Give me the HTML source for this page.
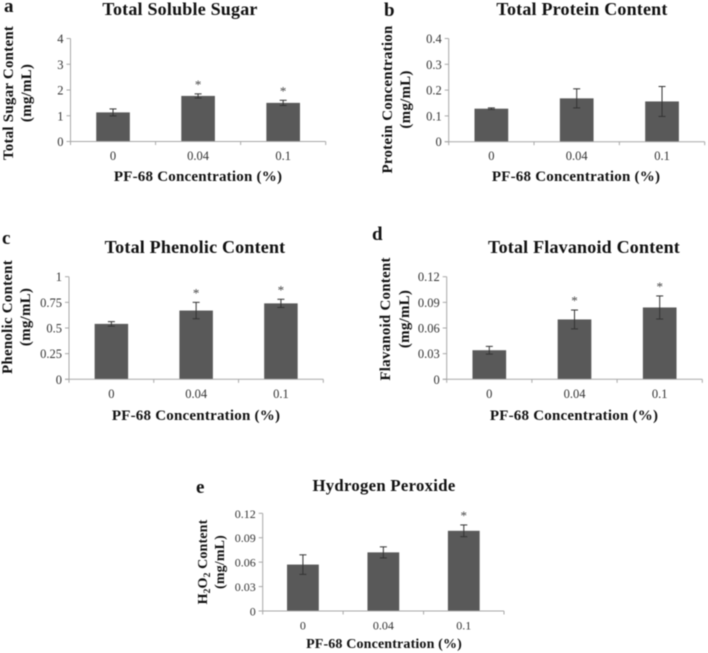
<!DOCTYPE html>
<html lang="en">
<head>
<meta charset="utf-8">
<title>PF-68 concentration effects</title>
<style>
html,body{margin:0;padding:0;background:#fff;width:708px;height:653px;overflow:hidden}
svg{display:block;filter:blur(0.45px)}
text{font-family:"Liberation Serif",serif;fill:#111}
.t{font-size:18px;font-weight:bold;text-anchor:middle;letter-spacing:.2px}
.l{font-size:19px;font-weight:bold}
.a{font-size:15px;font-weight:bold;text-anchor:middle;letter-spacing:.22px}
.tick{font-size:12.5px;fill:#333}
.star{font-size:13px;fill:#444;text-anchor:middle}
.t.e{font-size:16.7px;letter-spacing:.3px}
.a.e{font-size:14px;letter-spacing:.15px}
#panel-e .tick{font-size:12px}
</style>
</head>
<body>
<svg id="figure" width="708" height="653" viewBox="0 0 708 653" xmlns="http://www.w3.org/2000/svg">
  <rect width="708" height="653" fill="#fff"/>

  <text class="l" x="4" y="12">a</text>
  <text class="t" x="180" y="15">Total Soluble Sugar</text>
  <text class="a" transform="translate(13,93) rotate(-90)">Total Sugar Content</text>
  <text class="a" transform="translate(31,93) rotate(-90)">(mg/mL)</text>
  <text class="a" x="198" y="181">PF-68 Concentration (%)</text>
  <g id="panel-a"></g>

  <text class="l" x="384" y="16">b</text>
  <text class="t" x="582" y="15">Total Protein Content</text>
  <text class="a" transform="translate(392,99.5) rotate(-90)">Protein Concentration</text>
  <text class="a" transform="translate(410,99.5) rotate(-90)">(mg/mL)</text>
  <text class="a" x="576" y="181">PF-68 Concentration (%)</text>
  <g id="panel-b"></g>

  <text class="l" x="2" y="244">c</text>
  <text class="t" x="195" y="253">Total Phenolic Content</text>
  <text class="a" transform="translate(12,317) rotate(-90)">Phenolic Content</text>
  <text class="a" transform="translate(30,317) rotate(-90)">(mg/mL)</text>
  <text class="a" x="196" y="420">PF-68 Concentration (%)</text>
  <g id="panel-c"></g>

  <text class="l" x="372" y="240">d</text>
  <text class="t" x="584" y="253">Total Flavanoid Content</text>
  <text class="a" transform="translate(390,319) rotate(-90)">Flavanoid Content</text>
  <text class="a" transform="translate(409,319) rotate(-90)">(mg/mL)</text>
  <text class="a" x="574" y="420">PF-68 Concentration (%)</text>
  <g id="panel-d"></g>

  <text class="l" x="196" y="493">e</text>
  <text class="t e" x="384" y="491">Hydrogen Peroxide</text>
  <text class="a e" transform="translate(207,562) rotate(-90)">H<tspan font-size="9.5" dy="3">2</tspan><tspan dy="-3">O</tspan><tspan font-size="9.5" dy="3">2</tspan><tspan dy="-3"> Content</tspan></text>
  <text class="a e" transform="translate(224,562) rotate(-90)">(mg/mL)</text>
  <text class="a e" x="384" y="648">PF-68 Concentration (%)</text>
  <g id="panel-e"></g>
</svg>

<script>
var categories = ["0", "0.04", "0.1"];

var sugarValues = [1.13, 1.77, 1.5];
var sugarErrors = [0.135, 0.08, 0.1];
var sugarStars = [false, true, true];
var sugarTicks = [0, 1, 2, 3, 4];

var proteinValues = [0.128, 0.168, 0.156];
var proteinErrors = [0.003, 0.037, 0.058];
var proteinStars = [false, false, false];
var proteinTicks = [0, 0.1, 0.2, 0.3, 0.4];

var phenolicValues = [0.54, 0.67, 0.74];
var phenolicErrors = [0.022, 0.08, 0.04];
var phenolicStars = [false, true, true];
var phenolicTicks = [0, 0.25, 0.5, 0.75, 1];

var flavanoidValues = [0.034, 0.07, 0.084];
var flavanoidErrors = [0.0045, 0.011, 0.0135];
var flavanoidStars = [false, true, true];
var flavanoidTicks = [0, 0.03, 0.06, 0.09, 0.12];

var peroxideValues = [0.057, 0.072, 0.0985];
var peroxideErrors = [0.012, 0.0068, 0.0072];
var peroxideStars = [false, false, true];
var peroxideTicks = [0, 0.03, 0.06, 0.09, 0.12];

var SVG_NS = "http://www.w3.org/2000/svg";

function make(parent, tag, props) {
  var el = document.createElementNS(SVG_NS, tag);
  for (var k in props) { el.setAttribute(k, props[k]); }
  parent.appendChild(el);
  return el;
}

function drawPanel(id, box, values, errors, stars, ticks) {
  var g = document.getElementById(id);
  var maxTick = ticks[ticks.length - 1];
  var band = (box.right - box.left) / categories.length;
  var barWidth = band * 0.395;
  function yScale(v) { return box.bottom - (v / maxTick) * (box.bottom - box.top); }
  function xScale(i) { return box.left + band * (i + 0.5); }

  var yAxis = make(g, "line", {x1: box.left, x2: box.left, y1: box.top, y2: box.bottom, stroke: "#a8a8a8", "stroke-width": 1});
  
  

  ticks.forEach(function (t) {
    var y = yScale(t);
    var mark = make(g, "line", {x1: box.left - 4, x2: box.left, y1: y, y2: y, stroke: "#a8a8a8", "stroke-width": 1});
    
    
    var label = make(g, "text", {"class": "tick", x: box.left - 7, y: y + 4.5, "text-anchor": "end"});
    
    
    label.textContent = String(t);
  });

  values.forEach(function (v, i) {
    var cx = xScale(i);
    var bar = make(g, "rect", {x: cx - barWidth / 2, y: yScale(v), width: barWidth, height: box.bottom - yScale(v), fill: "#595959"});
    
    

    var top = yScale(v + errors[i]);
    var bottom = yScale(v - errors[i]);
    var stem = make(g, "line", {x1: cx, x2: cx, y1: top, y2: bottom, stroke: "#333", "stroke-width": 1});
    
    
    var capTop = make(g, "line", {x1: cx - 3.5, x2: cx + 3.5, y1: top, y2: top, stroke: "#333", "stroke-width": 1});
    
    
    var capBottom = make(g, "line", {x1: cx - 3.5, x2: cx + 3.5, y1: bottom, y2: bottom, stroke: "#333", "stroke-width": 1});
    
    

    if (stars[i]) {
      var star = make(g, "text", {"class": "star", x: cx, y: top - 5});
      
      
      star.textContent = "*";
    }

    var catLabel = make(g, "text", {"class": "tick", x: cx, y: box.bottom + 18.5, "text-anchor": "middle"});
    
    
    catLabel.textContent = categories[i];
  });

  var xAxis = make(g, "line", {x1: box.left - 4, x2: box.right, y1: box.bottom, y2: box.bottom, stroke: "#a8a8a8", "stroke-width": 1});
  
  

  for (var j = 0; j <= categories.length; j++) {
    var xt = box.left + band * j;
    var xMark = make(g, "line", {x1: xt, x2: xt, y1: box.bottom, y2: box.bottom + 3.5, stroke: "#a8a8a8", "stroke-width": 1});
    
    
  }
}

drawPanel("panel-a", {left: 70.5, right: 325.7, top: 38.5, bottom: 141.5}, sugarValues, sugarErrors, sugarStars, sugarTicks);
drawPanel("panel-b", {left: 448.7, right: 704.7, top: 38.5, bottom: 141.7}, proteinValues, proteinErrors, proteinStars, proteinTicks);
drawPanel("panel-c", {left: 69, right: 323.3, top: 276.7, bottom: 379.3}, phenolicValues, phenolicErrors, phenolicStars, phenolicTicks);
drawPanel("panel-d", {left: 446.7, right: 702.3, top: 276.7, bottom: 379.3}, flavanoidValues, flavanoidErrors, flavanoidStars, flavanoidTicks);
drawPanel("panel-e", {left: 262.7, right: 504, top: 513.3, bottom: 611}, peroxideValues, peroxideErrors, peroxideStars, peroxideTicks);
</script>
</body>
</html>
